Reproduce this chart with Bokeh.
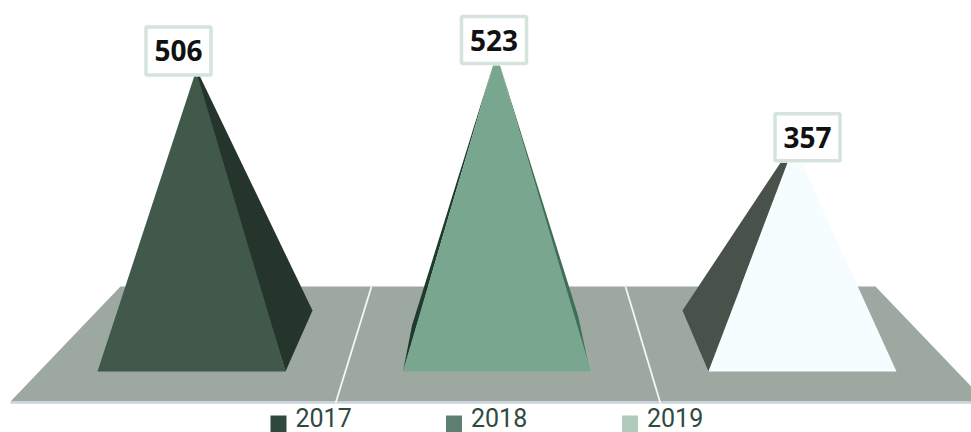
from bokeh.plotting import figure
from bokeh.models import Range1d, ColumnDataSource
from bokeh.core.properties import value as V
from bokeh.embed import file_html
from bokeh.resources import INLINE

categories = ["2017", "2018", "2019"]
values = [506, 523, 357]
labels = ["506", "523", "357"]
legend_colors = ["#2f4a3c", "#5e7f70", "#b0cbbb"]
front_colors = ["#41594b", "#78a68e", "#f5fdff"]

STEP = 305.5      # px between categories
X0 = 191.0        # px of first category
BASE = 371.0      # px of value 0
K = 0.585         # px per value unit
W, H = 971, 432


def ux(px):
    return px / STEP


def uy(px):
    return px / K


def sx(px):
    return (px - X0) / STEP


def sy(py):
    return (BASE - py) / K


p = figure(width=W, height=H, output_backend="svg", toolbar_location=None,
           x_range=Range1d(sx(0), sx(971)), y_range=Range1d(sy(432), sy(0)),
           min_border=0, outline_line_color=None, background_fill_color="white",
           border_fill_color="white")
p.axis.visible = False
p.grid.visible = False

# floor
p.patch([sx(120), sx(875), sx(985), sx(10)], [sy(286), sy(286), sy(401), sy(401)],
        fill_color="#9ca8a0", line_color=None)
p.line([sx(10), sx(971)], [sy(402), sy(402)], line_color="#c8d5dc", line_width=2.5)
for top, bot in [(371, 335), (625, 660)]:
    p.line([sx(top), sx(bot)], [sy(286), sy(403)], line_color="#f4f7f5", line_width=1.8)

# pyramids
half = 94
for i, (v, c) in enumerate(zip(values, front_colors)):
    cx = i
    if i == 0:
        p.patch([cx + ux(half), cx + ux(121), cx + ux(8), cx + ux(3)],
                [0, uy(61), v, v], fill_color="#25352b", line_color=None)
        al, ar = 3, 6
    elif i == 1:
        p.patch([cx - ux(94), cx - ux(85), cx - ux(4)],
                [0, uy(46), v], fill_color="#1f3a2e", line_color=None)
        p.patch([cx + ux(93), cx + ux(81), cx + ux(3)],
                [0, uy(56), v], fill_color="#3f6f57", line_color=None)
        al, ar = -4, 3
    else:
        p.patch([cx - ux(half), cx - ux(120), cx - ux(22), cx - ux(15)],
                [0, uy(61), v, v], fill_color="#48524b", line_color=None)
        al, ar = -14, -1
    p.patch([cx - ux(half), cx + ux(half), cx + ux(ar), cx + ux(al)],
            [0, 0, v, v], fill_color=c, line_color=None)

# value labels
box_dx = [-13, -3, 5]
box_dy = [24.5, 25.5, 25.5]
box_h = [48, 47, 47]
src = ColumnDataSource(dict(
    x=[i + ux(d) for i, d in enumerate(box_dx)],
    y=[v + uy(d) for v, d in zip(values, box_dy)],
    h=box_h,
    t=labels))
p.rect("x", "y", width=65, height="h", width_units="screen", height_units="screen",
       source=src, fill_color="white", line_color="#d5e3dd", line_width=3.5)
p.text("x", "y", text="t", source=src, text_align="center", text_baseline="middle",
       text_font=V("Open Sans"), text_font_style="bold", text_font_size="28px",
       text_color="#111111")

# legend
leg_px = [278, 453.5, 629.5]
leg_src = ColumnDataSource(dict(
    x=[sx(a) for a in leg_px],
    y=[sy(423.5)] * 3,
    tx=[sx(a + 17) for a in leg_px],
    ty=[sy(417)] * 3,
    c=legend_colors,
    t=categories))
p.rect("x", "y", width=16, height=17, width_units="screen", height_units="screen",
       source=leg_src, fill_color="c", line_color=None)
p.text("tx", "ty", text="t", source=leg_src, text_align="left", text_baseline="middle",
       text_font=V("Roboto"), text_font_size="25px", text_color="#2f4a3e")

open("out.html", "w").write(file_html(p, INLINE))
